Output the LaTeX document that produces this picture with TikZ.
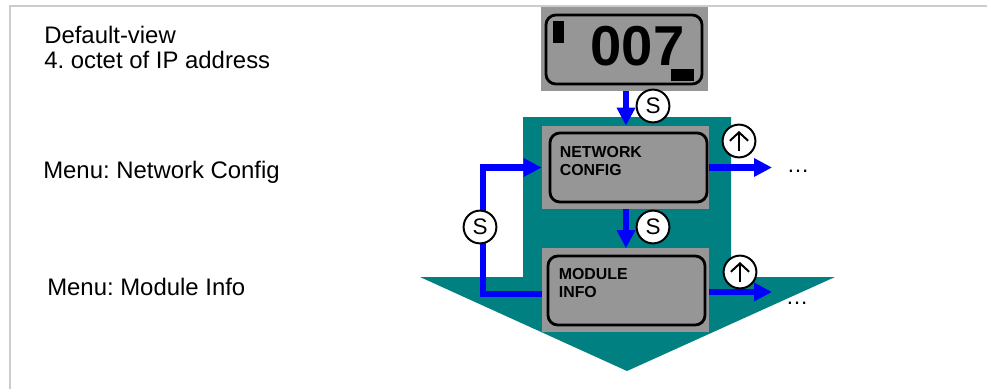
\documentclass[tikz,border=0pt]{standalone}
\usepackage{fontspec}
\setmainfont{Liberation Sans}
\usetikzlibrary{arrows.meta,positioning}
\definecolor{menuteal}{RGB}{0,128,128}
\definecolor{panelgray}{RGB}{150,150,150}
\definecolor{framegray}{RGB}{204,204,204}
\frenchspacing
\tikzset{
  note/.style={anchor=base west,inner sep=0pt,font=\fontsize{17}{20}\selectfont},
  panel/.style={fill=panelgray,inner sep=0pt,minimum width=4.175cm,minimum height=2.075cm},
  lcd/.style={draw=black,line width=2pt,rounded corners=7pt,inner sep=0pt,minimum width=3.925cm,minimum height=1.725cm},
  lcdtext/.style={anchor=north west,inner sep=0pt,align=left,font=\fontsize{11.3}{12.8}\selectfont\bfseries},
  key/.style={circle,draw=black,fill=white,line width=1.4pt,inner sep=0pt,minimum size=0.82cm,font=\fontsize{16}{16}\selectfont},
  uparrow/.style={draw=black,line width=1.4pt,-{Straight Barb[length=6pt,width=13pt,line width=1.4pt]}},
  flow/.style={draw=blue,line width=4.3pt,-{Triangle[length=12.8pt,width=12.5pt]}},
  more/.style={inner sep=0pt,font=\fontsize{16}{16}\selectfont}
}
\begin{document}
\begin{tikzpicture}[x=0.025cm,y=-0.025cm]
\useasboundingbox (0,0) rectangle (987,389);
% frame
\draw[framegray,line width=1pt] (10,389) -- (10,6) -- (987,6);
% teal menu arrow
\fill[menuteal] (523,117) -- (731,117) -- (731,277) -- (835,277) -- (627,371)
  -- (420,277) -- (523,277) -- cycle;
% left labels
\node[note] (defview) at (44,43) {Default-view};
\node[note] (octet) at (44,68) {4. octet of IP address};
\node[note] (netlabel) at (43,178) {Menu: Network Config};
\node[note] (modlabel) at (47,295) {Menu: Module Info};
% default view display
\node[panel,minimum height=2.1cm] (display) at (624.5,49) {};
\node[lcd,minimum width=3.9cm] (displcd) at (624,49.5) {};
\fill (553,21) rectangle (564,43);
\fill (671,69) rectangle (694,81);
\node[inner sep=0pt,font=\fontsize{40}{40}\selectfont\bfseries] (octetval) at (637.5,46.5) {007};
% menu panels
\node[panel] (netcfg) at (625.5,167.5) {};
\node[lcd] (netlcd) at (628.5,167.5) {};
\node[lcdtext] (nettext) at ([shift={(11,15)}]netlcd.north west) {NETWORK\\CONFIG};
\node[panel] (modcfg) at (625.5,290) {};
\node[lcd] (modlcd) at (626.5,290.5) {};
\node[lcdtext] (modtext) at ([shift={(12,14)}]modlcd.north west) {MODULE\\INFO};
% flows
\coordinate (netend) at (772,167.5);
\coordinate (modend) at (772,292);
\draw[flow] (display.south -| 626,0) -- (netcfg.north -| 626,0);
\draw[flow] (netcfg.south -| 626,0) -- (modcfg.north -| 626,0);
\draw[flow] ([yshift=-3]modcfg.west) -- ++(-59,0) |- (netcfg.west);
\draw[flow] (netcfg.east) -- (netend);
\draw[flow] (modcfg.east |- modend) -- (modend);
\node[more] (netmore) at (798,171) {\dots};
\node[more] (modmore) at (797,303) {\dots};
% keys
\node[key] (skey1) at (653,106) {S};
\node[key] (skey2) at (653,227) {S};
\node[key] (skey3) at (480,227) {S};
\node[key] (upkey1) at (739,141) {};
\node[key] (upkey2) at (740,272) {};
\draw[uparrow] ([shift={(0,10)}]upkey1.center) -- ([shift={(0,-10)}]upkey1.center);
\draw[uparrow] ([shift={(0,10)}]upkey2.center) -- ([shift={(0,-10)}]upkey2.center);
\end{tikzpicture}
\end{document}
